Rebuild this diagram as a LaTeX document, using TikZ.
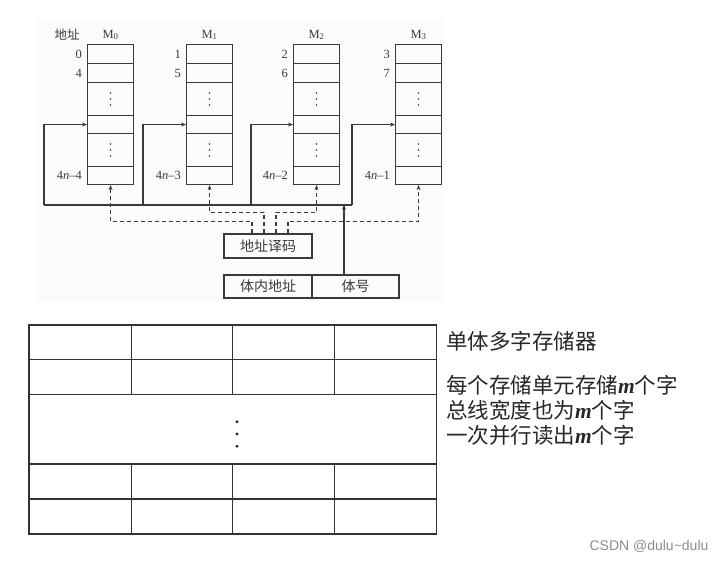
\documentclass[tikz,border=0pt]{standalone}
\usepackage{fontspec}
\setmainfont{Liberation Serif}
\newfontfamily\cjk{Noto Sans CJK SC}
\newfontfamily\wmfont{Liberation Sans}
\usetikzlibrary{arrows.meta,calc}
\definecolor{ink}{HTML}{3A3A3A}
\definecolor{panel}{HTML}{FBFBFB}
\begin{document}
\begin{tikzpicture}[x=1pt,y=-1pt,
  ln/.style={draw=ink,line width=1.1pt},
  cell/.style={rectangle,draw=ink,line width=1.1pt,minimum width=46pt,inner sep=0pt,anchor=north west},
  boxnode/.style={rectangle,draw=ink,line width=1.1pt,inner sep=0pt,text=ink,font=\cjk\fontsize{14}{16}\selectfont},
  arr/.style={-{Stealth[length=5pt,width=4pt]}},
  dsh/.style={draw=ink,line width=1.1pt,dash pattern=on 4pt off 3pt},
  lab/.style={text=ink,inner sep=0pt,font=\fontsize{12.5}{14}\selectfont},
  side/.style={anchor=west,inner sep=0pt,text=black!85,font=\cjk\fontsize{21.5}{24}\selectfont}
]
\useasboundingbox (0,0) rectangle (724,561);
\fill[panel] (37,19) rectangle (445,302);

% memory banks
\foreach \i/\L in {0/87,1/186,2/293,3/395}{
  \foreach \r/\t/\h in {1/44/19,2/63/19,3/82/33,4/115/18,5/133/33,6/166/18}{
    \node[cell,minimum height=\h pt] (b\i r\r) at (\L,\t) {};
  }
  \foreach \d in {-6,0,6}{
    \fill[ink] ($(b\i r3.center)+(0,\d)$) circle (0.9pt);
    \fill[ink] ($(b\i r5.center)+(0,\d)$) circle (0.9pt);
  }
  \node[lab] (m\i) at ($(b\i r1.north)+(0,-9)$) {M\textsubscript{\i}};
}
\node[lab,font=\cjk\fontsize{12.5}{14}\selectfont] (addrlab) at (67,35) {地址};

\foreach \i/\a/\b/\c in {0/0/4/{4\textit{n}–4},1/1/5/{4\textit{n}–3},2/2/6/{4\textit{n}–2},3/3/7/{4\textit{n}–1}}{
  \node[lab,anchor=east] (a\i) at ($(b\i r1.west)+(-5,0)$) {\a};
  \node[lab,anchor=east] (c\i) at ($(b\i r2.west)+(-5,0)$) {\b};
  \node[lab,anchor=east] (d\i) at ($(b\i r6.west)+(-5,0)$) {\c};
}

% bus and feedback lines
\coordinate (busL) at (44,205);
\coordinate (fb1) at (143,205);
\coordinate (fb2) at (251,205);
\coordinate (busR) at (352,205);
\draw[ln] (busL) -- (busR);
\draw[ln,arr] (busL) |- (b0r4.west);
\draw[ln,arr] (fb1) |- (b1r4.west);
\draw[ln,arr] (fb2) |- (b2r4.west);
\draw[ln,arr] (busR) |- (b3r4.west);

% decoder and address register
\node[boxnode,minimum width=88pt,minimum height=24pt] (dec) at (268,246) {地址译码};
\node[boxnode,minimum width=88pt,minimum height=23pt] (inaddr) at (268,286.5) {体内地址};
\node[boxnode,minimum width=87pt,minimum height=23pt] (bank) at (355.5,286.5) {体号};
\draw[ln,arr] ([xshift=-11.5pt]bank.north) -- ++(0,-70);

% dashed select lines
\draw[dsh,arr] ([xshift=-16pt]dec.north) -- ++(0,-12) -| (b0r6.south);
\draw[dsh,arr] ([xshift=-4pt]dec.north) -- ++(0,-21) -| (b1r6.south);
\draw[dsh,arr] ([xshift=8pt]dec.north) -- ++(0,-21) -| (b2r6.south);
\draw[dsh,arr] ([xshift=20pt]dec.north) -- ++(0,-12) -| (b3r6.south);

% single multi-word memory table
\begin{scope}[line width=1.4pt]
  \draw[black!80] (29,325) rectangle (436.7,534);
  \foreach \y in {359.3,394.3,464,499}{
    \draw[black!80] (29,\y) -- (436.7,\y);
  }
  \foreach \x in {131.7,232.7,334.3}{
    \draw[black!80] (\x,325) -- (\x,394.3);
    \draw[black!80] (\x,464) -- (\x,534);
  }
\end{scope}
\foreach \y in {421.7,434,446.3}{
  \fill[black!85] (237,\y) circle (1.6pt);
}

% side text
\node[side] (t1) at (446,341.5) {单体多字存储器};
\node[side] (t2) at (446,385) {每个存储单元存储{\rmfamily\bfseries\itshape m}个字};
\node[side] (t3) at (446,410) {总线宽度也为{\rmfamily\bfseries\itshape m}个字};
\node[side] (t4) at (446,435) {一次并行读出{\rmfamily\bfseries\itshape m}个字};

\node[inner sep=0pt,text=black!45,font=\wmfont\fontsize{14}{16}\selectfont] (wm) at (649,546) {CSDN @dulu\textasciitilde dulu};
\end{tikzpicture}
\end{document}
